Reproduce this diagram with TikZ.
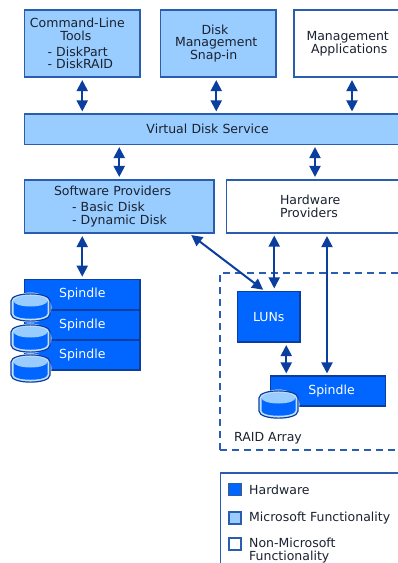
\documentclass[tikz,border=0pt]{standalone}
\usepackage{fontspec}
\setmainfont{DejaVu Sans}
\usetikzlibrary{arrows.meta,calc}
\definecolor{lightblue}{HTML}{99CCFF}
\definecolor{hwblue}{HTML}{0066FF}
\definecolor{linkblue}{HTML}{0B3F9F}
\definecolor{edgeblue}{HTML}{2A5DB0}
\definecolor{inkgrey}{HTML}{1A2230}
\tikzset{
  base/.style={draw=edgeblue,line width=1.1pt,inner xsep=0pt,inner ysep=0pt,align=left,text=inkgrey,
    font=\fontsize{12.5}{12.6}\selectfont},
  msbox/.style={base,fill=lightblue},
  plainbox/.style={base,fill=white},
  hwbox/.style={base,fill=hwblue,draw=linkblue,text=white,align=center},
  dbl/.style={line width=2pt,draw=linkblue,{Triangle[length=11pt,width=11pt]}-{Triangle[length=11pt,width=11pt]},shorten <=2.5pt,shorten >=2pt},
  caption/.style={text=inkgrey,anchor=west,inner sep=0pt,align=left,font=\fontsize{12.5}{12.6}\selectfont},
  swatch/.style={draw=edgeblue,line width=1.1pt,minimum size=12pt,inner sep=0pt},
  zone/.style={draw=edgeblue,line width=1.2pt,dash pattern=on 7pt off 5pt},
  pics/disk/.style={code={
    \fill[white] (19.5,13.5) ellipse [x radius=21, y radius=15];
    \draw[linkblue,line width=1.2pt,fill=lightblue!60!white] (0,7) .. controls (0,-2.5) and (39,-2.5) .. (39,7) -- (39,20) .. controls (39,29.5) and (0,29.5) .. (0,20) -- cycle;
    \fill[hwblue] (2.5,7) -- (36.5,7) -- (36.5,19.5) .. controls (36.5,26.5) and (2.5,26.5) .. (2.5,19.5) -- cycle;
    \fill[lightblue] (19.5,7) ellipse [x radius=17, y radius=5.5];
  }}
}
\begin{document}
\begin{tikzpicture}[x=1pt,y=-1pt]
\useasboundingbox (0,0) rectangle (398,563);
\clip (0,0) rectangle (398,563);
\fill[white] (0,0) rectangle (398,563);

\node[msbox,minimum width=115.5pt,minimum height=67pt,text width=115.5pt] (cmd) at (82.25,43.5)
  {\hspace*{5.5pt}Command-Line\\\hspace*{36pt}Tools\\[3.5pt]\hspace*{23pt}- DiskPart\\\hspace*{23pt}- DiskRAID};
\node[msbox,minimum width=115.5pt,minimum height=67pt,text width=115.5pt] (snap) at (218.25,43.5)
  {\hspace*{41pt}Disk\\\hspace*{14.5pt}Management\\\hspace*{29.5pt}Snap-in};
\node[plainbox,minimum width=116pt,minimum height=67pt,text width=116pt] (mgmt) at (352,43.5)
  {\hspace*{12.5pt}Management\\\hspace*{17pt}Applications};
\node[msbox,minimum width=386pt,minimum height=30.5pt,text width=386pt] (vds) at (217.5,129.25)
  {\hspace*{122pt}Virtual Disk Service};
\node[msbox,minimum width=189.5pt,minimum height=53pt,text width=189.5pt] (sw) at (119.25,206.5)
  {\hspace*{29.5pt}Software Providers\\[4pt]\hspace*{47.5pt}- Basic Disk\\\hspace*{47.5pt}- Dynamic Disk};
\node[plainbox,minimum width=184pt,minimum height=53pt,text width=184pt] (hw) at (318.5,206.5)
  {\hspace*{53.5pt}Hardware\\\hspace*{53.5pt}Providers};

\node[hwbox,minimum width=115.5pt,minimum height=30.5pt] (sp1) at (82.25,294.5) {Spindle};
\node[hwbox,minimum width=115.5pt,minimum height=30pt] (sp2) at (82.25,325) {Spindle};
\node[hwbox,minimum width=115.5pt,minimum height=30pt] (sp3) at (82.25,355) {Spindle};
\pic at (11,294) {disk};
\pic at (11,325) {disk};
\pic at (11,355) {disk};

\draw[zone] (220,450) -- (220,273) -- (410,273);
\draw[zone] (220,450) -- (410,450);
\node[hwbox,minimum width=62.5pt,minimum height=50.5pt] (luns) at (268.75,316.75) {LUNs};
\node[hwbox,minimum width=114.5pt,minimum height=30pt] (sp4) at (328,391) {\hspace*{7pt}Spindle};
\pic at (259,391) {disk};
\node[caption] (raid) at (234,438) {RAID Array};

\draw[dbl] (cmd.south) -- (cmd.south |- vds.north);
\draw[dbl] ([xshift=-2pt]snap.south) -- ([xshift=-2pt]snap.south |- vds.north);
\draw[dbl] (mgmt.south) -- (mgmt.south |- vds.north);
\draw[dbl] (sw.north) -- (sw.north |- vds.south);
\draw[dbl] ([xshift=-3.5pt]hw.north) -- ([xshift=-3.5pt]hw.north |- vds.south);
\draw[dbl] ([xshift=-37pt]sw.south) -- ([xshift=-37pt]sw.south |- sp1.north);
\draw[dbl] ([xshift=70pt]sw.south) -- ([xshift=-4pt]luns.north);
\draw[dbl] ([xshift=5.5pt]luns.north) -- ([xshift=5.5pt]luns.north |- hw.south);
\draw[dbl] ([xshift=8.5pt]hw.south) -- ([xshift=8.5pt]hw.south |- sp4.north);
\draw[dbl] ([xshift=17.5pt]luns.south) -- ([xshift=17.5pt]luns.south |- sp4.north);

\draw[draw=edgeblue,line width=1.1pt] (410,473) -- (220.5,473) -- (220.5,580);
\node[swatch,fill=hwblue] (k1) at (235,489.5) {};
\node[swatch,fill=lightblue] (k2) at (235,518) {};
\node[swatch,fill=white] (k3) at (235,544) {};
\node[caption] (t1) at (249,490) {Hardware};
\node[caption] (t2) at (249,518) {Microsoft Functionality};
\node[caption] (t3) at (249,550.5) {Non-Microsoft\\Functionality};
\end{tikzpicture}
\end{document}
